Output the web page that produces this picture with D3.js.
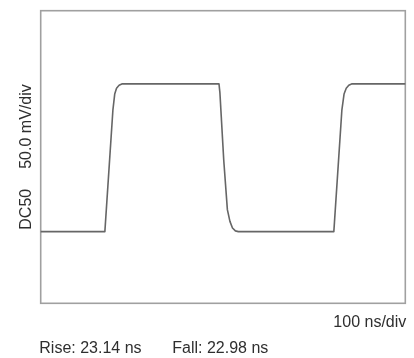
<!DOCTYPE html>
<html>
<head>
<meta charset="utf-8">
<script src="https://cdn.jsdelivr.net/npm/d3@7"></script>
<style>
  html, body { margin: 0; padding: 0; background: #fff; }
  svg { display: block; }
  text { font-family: "Liberation Sans", Arial, sans-serif; fill: #2f2f2f; }
</style>
</head>
<body>
<script>
// Oscilloscope capture: square wave, 100 ns/div horizontally, 50 mV/div vertically
const timeNs = [0, 176, 198, 203, 208, 215, 224, 489, 491.5, 502, 512, 519, 526, 534, 542, 804, 826, 832, 838, 845, 854, 1000];
const voltageMv = [-102, -102, 64, 86, 94, 98, 100, 100, 88, -4, -72, -88, -97, -101, -102, -102, 64, 86, 94, 98, 100, 100];

const timeDomain = [0, 1000];     // 10 divisions x 100 ns
const voltDomain = [-200, 200];   // 8 divisions x 50 mV

const couplingLabel = "DC50";
const voltScaleLabel = "50.0 mV/div";
const timeScaleLabel = "100 ns/div";
const riseLabel = "Rise: 23.14 ns";
const fallLabel = "Fall: 22.98 ns";

const W = 414, H = 358;
const svg = d3.select("body").append("svg").attr("width", W).attr("height", H);

const x = d3.scaleLinear().domain(timeDomain).range([40.7, 405.3]);
const y = d3.scaleLinear().domain(voltDomain).range([303.3, 10.7]);

// Soft capture look
const defs = svg.append("defs");
defs.append("filter").attr("id", "soft")
  .append("feGaussianBlur").attr("stdDeviation", 0.45);

const g = svg.append("g").attr("filter", "url(#soft)");

// Screen border
g.append("rect")
  .attr("x", x(timeDomain[0]))
  .attr("y", y(voltDomain[1]))
  .attr("width", x(timeDomain[1]) - x(timeDomain[0]))
  .attr("height", y(voltDomain[0]) - y(voltDomain[1]))
  .attr("fill", "none")
  .attr("stroke", "#a0a0a0")
  .attr("stroke-width", 1.6);

// Waveform trace
const pts = timeNs.map((t, i) => [t, voltageMv[i]]);
g.append("path")
  .datum(pts)
  .attr("fill", "none")
  .attr("stroke", "#666")
  .attr("stroke-width", 1.6)
  .attr("stroke-linejoin", "round")
  .attr("d", d3.line().x(d => x(d[0])).y(d => y(d[1])).curve(d3.curveLinear));

// Vertical scale label, centred on the screen
const yMid = (y.range()[0] + y.range()[1]) / 2;
const vt = g.append("text")
  .attr("transform", `translate(30.5,${yMid}) rotate(-90)`)
  .attr("text-anchor", "middle")
  .style("font-size", "16px");
vt.append("tspan").text(couplingLabel);
vt.append("tspan").attr("dx", 20).text(voltScaleLabel);

// Horizontal scale label
g.append("text")
  .attr("x", x.range()[1] + 1)
  .attr("y", 326.7)
  .attr("text-anchor", "end")
  .style("font-size", "16px")
  .text(timeScaleLabel);

// Edge measurements
g.append("text")
  .attr("x", 39.3).attr("y", 352.7)
  .style("font-size", "16px")
  .text(riseLabel);
g.append("text")
  .attr("x", 172.3).attr("y", 352.7)
  .style("font-size", "16px")
  .text(fallLabel);
</script>
</body>
</html>
